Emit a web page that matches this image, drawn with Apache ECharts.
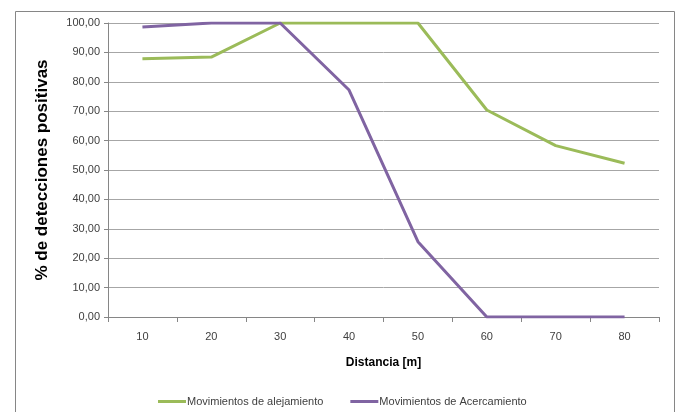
<!DOCTYPE html>
<html><head><meta charset="utf-8">
<script src="https://cdn.jsdelivr.net/npm/echarts@6/dist/echarts.min.js"></script>
<style>html,body{margin:0;padding:0;background:#fff}#c{width:679px;height:412px}</style>
</head><body><div id="c"></div>
<script>
const categories = ['10','20','30','40','50','60','70','80'];
const alejamiento = [87.8, 88.4, 100, 100, 100, 70.4, 58.3, 52.3];
const acercamiento = [98.6, 100, 100, 77.2, 25.6, 0, 0, 0];
const seriesNames = ['Movimientos de alejamiento', 'Movimientos de Acercamiento'];
const yTitle = '% de detecciones positivas';
const xTitle = 'Distancia [m]';

const font = 'Liberation Sans';
const chart = echarts.init(document.getElementById('c'));
chart.setOption({
  animation: false,
  textStyle: { fontFamily: font },
  graphic: [{
    type: 'rect', left: 13, top: 9,
    shape: { width: 659, height: 420 },
    style: { fill: 'none', stroke: '#868686', lineWidth: 1 }
  }],
  grid: { left: 108, right: 20, top: 23, bottom: 95 },
  legend: {
    left: 153, top: 391, itemGap: 27,
    itemWidth: 28, itemHeight: 3, icon: 'rect',
    textStyle: { fontSize: 11, color: '#404040', fontFamily: font, padding: [0,0,0,-4] },
    data: seriesNames
  },
  xAxis: {
    type: 'category', data: categories, boundaryGap: true,
    name: xTitle, nameLocation: 'middle', nameGap: 40,
    nameTextStyle: { fontSize: 12, fontWeight: 'bold', color: '#000', fontFamily: font },
    axisLine: { lineStyle: { color: '#868686', width: 1 } },
    axisTick: { show: true, length: 5, alignWithLabel: false, lineStyle: { color: '#868686' } },
    axisLabel: { fontSize: 11, color: '#404040', margin: 14 }
  },
  yAxis: {
    type: 'value', min: 0, max: 100, interval: 10,
    name: yTitle, nameLocation: 'middle', nameGap: 57,
    nameTextStyle: { fontSize: 17, fontWeight: 'bold', color: '#000', fontFamily: font },
    axisLine: { show: true, lineStyle: { color: '#868686', width: 1 } },
    axisTick: { show: true, length: 4, lineStyle: { color: '#868686' } },
    axisLabel: { fontSize: 11, color: '#404040', margin: 8,
      formatter: v => v.toFixed(2).replace('.', ',') },
    splitLine: { lineStyle: { color: '#A6A6A6', width: 1 } }
  },
  series: [
    { name: seriesNames[0], type: 'line', data: alejamiento, symbol: 'none',
      lineStyle: { color: '#9BBB59', width: 3 }, itemStyle: { color: '#9BBB59' } },
    { name: seriesNames[1], type: 'line', data: acercamiento, symbol: 'none',
      lineStyle: { color: '#8064A2', width: 3 }, itemStyle: { color: '#8064A2' } }
  ]
});
</script></body></html>
